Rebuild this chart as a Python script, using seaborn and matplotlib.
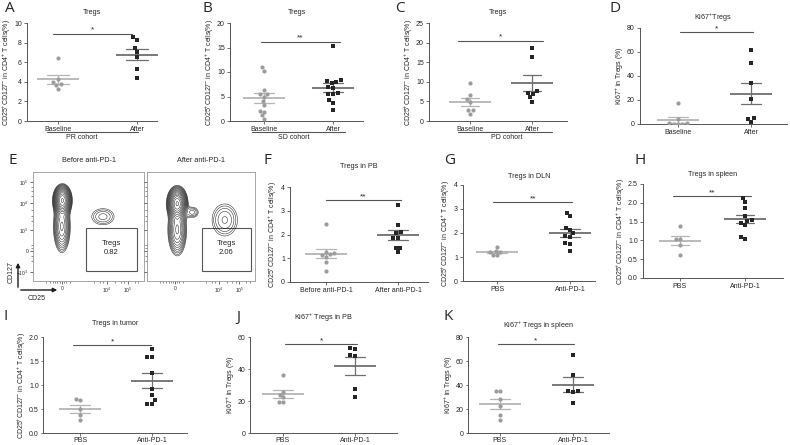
import warnings
import numpy as np
import pandas as pd
import matplotlib
matplotlib.use("Agg")
import matplotlib.pyplot as plt
import matplotlib.transforms as mtrans
from matplotlib.patches import Rectangle, FancyArrowPatch
import seaborn as sns

warnings.filterwarnings("ignore")

sns.set_theme(style="ticks")
plt.rcParams["font.family"] = ["Liberation Sans", "DejaVu Sans"]
plt.rcParams["mathtext.default"] = "regular"
plt.rcParams["axes.linewidth"] = 0.7

# ---- data ----
pr_baseline = [6.4, 4.3, 4.0, 3.8, 3.7, 3.3]
pr_after = [8.56, 8.29, 7.43, 6.99, 6.51, 5.31, 4.35]
sd_baseline = [11.0, 10.3, 6.4, 5.6, 5.5, 5.0, 4.0, 3.2, 2.1, 1.9, 1.2, 0.5]
sd_after = [15.4, 8.3, 8.1, 7.9, 7.7, 7.0, 6.8, 5.8, 5.5, 5.5, 4.2, 3.6, 2.2]
pd_baseline = [9.8, 6.6, 5.6, 4.9, 2.9, 2.7, 1.7]
pd_after = [18.6, 16.3, 7.6, 7.2, 7.0, 6.0, 4.9]
ki67_baseline = [17.3, 3.9, 0.8, 0.5, 0.4, 0.2, 0.1]
ki67_after = [61.8, 50.7, 34.0, 20.6, 4.7, 4.5, 1.5]

pb_before = [2.43, 1.25, 1.21, 1.17, 1.14, 1.07, 0.84, 0.45]
pb_after = [3.26, 2.40, 2.12, 2.05, 1.87, 1.87, 1.45, 1.42, 1.25]
dln_pbs = [1.43, 1.25, 1.22, 1.20, 1.08, 1.07]
dln_anti = [2.85, 2.71, 2.22, 2.13, 1.99, 1.89, 1.85, 1.57, 1.53, 1.25]
spleen_pbs = [1.39, 1.04, 1.04, 0.88, 0.62]
spleen_anti = [2.12, 2.01, 1.86, 1.65, 1.55, 1.52, 1.46, 1.41, 1.10, 1.04]
tumor_pbs = [0.70, 0.68, 0.49, 0.37, 0.28]
tumor_anti = [1.76, 1.58, 1.58, 1.25, 0.92, 0.79, 0.68, 0.61, 0.61]
ki67_pb_pbs = [36.5, 25.7, 23.8, 22.2, 19.4, 19.4]
ki67_pb_anti = [53.2, 52.3, 48.1, 48.5, 27.2, 22.2]
ki67_spleen_pbs = [34.7, 34.7, 28.3, 22.2, 15.3, 10.6]
ki67_spleen_anti = [65.3, 48.6, 34.7, 34.2, 34.7, 25.0]

cohort_cats = ["Baseline", "After"]
pb_cats = ["Before anti-PD-1", "After anti-PD-1"]
mouse_cats = ["PBS", "Anti-PD-1"]

# flow cytometry density blobs: (x, y, sx, sy, weight) in gate-plot units
flow_before = [(0.265, 0.74, 0.032, 0.055, 1.0), (0.26, 0.50, 0.035, 0.11, 0.22),
               (0.63, 0.59, 0.075, 0.055, 0.05)]
flow_after = [(0.28, 0.71, 0.036, 0.06, 1.0), (0.28, 0.47, 0.04, 0.11, 0.22),
              (0.42, 0.63, 0.04, 0.035, 0.05), (0.72, 0.56, 0.08, 0.10, 0.06)]
treg_pct = ["0.82", "2.06"]

LO_PT, HI_PT = "#9c9c9c", "#262626"
LO_BAR, HI_BAR = "#b5b5b5", "#6e6e6e"
AX_COL = "#555555"

W, H = 790, 445
fig = plt.figure(figsize=(7.9, 4.45), dpi=100)


def px_rect(left, right, bottom, top):
    return [left / W, 1 - bottom / H, (right - left) / W, (bottom - top) / H]


def dot_panel(rect, cats, lo, hi, title, ylabel, yticks, xlim, sig, star, pad,
              cohort=None, ylab_fmt=None, tick_len=2.5):
    ax = fig.add_axes(rect)
    df = pd.DataFrame({"group": [cats[0]] * len(lo) + [cats[1]] * len(hi),
                       "value": list(lo) + list(hi)})
    sns.pointplot(data=df, x="group", y="value", hue="group", order=cats,
                  hue_order=cats, palette=[LO_BAR, HI_BAR], errorbar="se",
                  capsize=0.28, marker="_", markersize=30, markeredgewidth=1.3,
                  linestyle="none", err_kws={"linewidth": 0.9}, legend=False, ax=ax)
    sns.swarmplot(x=[cats[0]] * len(lo), y=lo, order=cats, color=LO_PT,
                  marker="o", size=3.0, ax=ax)
    sns.swarmplot(x=[cats[1]] * len(hi), y=hi, order=cats, color=HI_PT,
                  marker="s", size=3.3, ax=ax)
    ax.set_xlim(*xlim)
    ax.set_ylim(yticks[0], yticks[-1])
    ax.set_yticks(yticks)
    if ylab_fmt:
        ax.set_yticklabels([ylab_fmt.format(t) for t in yticks])
    sns.despine(ax=ax)
    for s in ["left", "bottom"]:
        ax.spines[s].set_color(AX_COL)
    ax.tick_params(labelsize=5, length=tick_len, width=0.6, pad=1.2, color=AX_COL)
    ax.set_xlabel("")
    ax.set_ylabel(ylabel, fontsize=5, labelpad=1)
    ax.set_title(title, fontsize=5.2, pad=pad)
    ax.plot(sig[0], [sig[1], sig[1]], color=AX_COL, lw=0.8, clip_on=False)
    ax.text(np.mean(sig[0]), sig[1], star, ha="center", va="bottom", fontsize=6)
    if cohort:
        tr = mtrans.blended_transform_factory(ax.transData, ax.transAxes)
        ax.plot(cohort[1], [-0.112, -0.112], color=AX_COL, lw=0.8,
                transform=tr, clip_on=False)
        ax.text(cohort[2], -0.165, cohort[0], transform=ax.transAxes,
                ha="center", va="center", fontsize=5)
    return ax


def flow_panel(rect, blobs, gate, pct, title, ylabels):
    ax = fig.add_axes(rect)
    g = np.linspace(0, 1, 300)
    X, Y = np.meshgrid(g, g)
    Z = np.zeros_like(X)
    for cx, cy, sx, sy, w in blobs:
        Z += w * np.exp(-((X - cx) ** 2 / (2 * sx ** 2) + (Y - cy) ** 2 / (2 * sy ** 2)))
    levels = np.geomspace(Z.max() * 0.02, Z.max() * 0.95, 16)
    ax.contour(X, Y, Z, levels=levels, colors="k", linewidths=0.35)
    ax.add_patch(Rectangle((gate[0], gate[1]), gate[2], gate[3], fill=False,
                           edgecolor="#555555", lw=0.8))
    ax.text(gate[0] + gate[2] / 2, gate[1] + gate[3] * 0.63, "Tregs",
            ha="center", va="center", fontsize=5.5)
    ax.text(gate[0] + gate[2] / 2, gate[1] + gate[3] * 0.42, pct,
            ha="center", va="center", fontsize=5.5)
    ax.set_xlim(0, 1)
    ax.set_ylim(0, 1)
    ax.set_xticks([0.26, 0.667, 0.856])
    ax.set_xticklabels(["0", "$10^4$", "$10^5$"])
    ax.set_xticks([0.12, 0.15, 0.18, 0.2, 0.22, 0.24, 0.28, 0.3, 0.33,
                   0.55, 0.6, 0.63, 0.74, 0.79, 0.82, 0.92, 0.95], minor=True)
    ax.set_yticks([0.083, 0.275, 0.468, 0.716, 0.908])
    ax.set_yticklabels(["$-10^3$", "0", "$10^3$", "$10^4$", "$10^5$"])
    ax.set_yticks([0.18, 0.23, 0.3, 0.33, 0.55, 0.6, 0.65, 0.78, 0.83, 0.86], minor=True)
    ax.tick_params(labelsize=3.5, length=2, width=0.5, pad=1.5, color="#333333")
    ax.tick_params(which="minor", length=1.2, width=0.4, color="#333333")
    if not ylabels:
        ax.set_yticklabels([])
    for s in ax.spines.values():
        s.set_color("#999999")
        s.set_linewidth(0.6)
    ax.set_title(title, fontsize=5.2, pad=7)
    return ax


ylab_cd = "CD25$^{+}$CD127$^{-}$ in CD4$^{+}$ T cells(%)"
ylab_ki = "Ki67$^{+}$ in Tregs (%)"

# row 1
dot_panel(px_rect(27, 157, 121, 23), cohort_cats, pr_baseline, pr_after, "Tregs",
          ylab_cd, [0, 2, 4, 6, 8, 10], (-0.392, 1.253), ([-0.06, 0.94], 8.9), "*", 6.5,
          cohort=("PR cohort", [-0.14, 1.01], 0.42))
dot_panel(px_rect(230, 363, 121, 23), cohort_cats, sd_baseline, sd_after, "Tregs",
          ylab_cd, [0, 5, 10, 15, 20], (-0.493, 1.435), ([-0.04, 1.1], 16.2), "**", 6.5,
          cohort=("SD cohort", [-0.17, 1.17], 0.478))
dot_panel(px_rect(429, 567, 121, 23), cohort_cats, pd_baseline, pd_after, "Tregs",
          ylab_cd, [0, 5, 10, 15, 20, 25], (-0.661, 1.565), ([-0.19, 1.18], 20.5), "*", 6.5,
          cohort=("PD cohort", [-0.19, 1.32], 0.565))
dot_panel(px_rect(640, 787, 124, 28), cohort_cats, ki67_baseline, ki67_after,
          "Ki67$^{+}$Tregs", ylab_ki, [0, 20, 40, 60, 80], (-0.521, 1.493),
          ([0.03, 1.03], 76.4), "*", 5.8)

# row 2: flow plots
flow_panel(px_rect(33, 144, 281, 172), flow_before, (0.477, 0.092, 0.46, 0.394),
           treg_pct[0], "Before anti-PD-1", True)
flow_panel(px_rect(147, 255, 281, 172), flow_after, (0.51, 0.092, 0.45, 0.394),
           treg_pct[1], "After anti-PD-1", False)
fig.add_artist(FancyArrowPatch((18 / W, 1 - 290 / H), (18 / W, 1 - 260 / H),
                               transform=fig.transFigure, arrowstyle="-|>",
                               mutation_scale=6, lw=1, color="k"))
fig.add_artist(FancyArrowPatch((18 / W, 1 - 290 / H), (60 / W, 1 - 290 / H),
                               transform=fig.transFigure, arrowstyle="-|>",
                               mutation_scale=6, lw=1, color="k"))
fig.text(11 / W, 1 - 272 / H, "CD127", rotation=90, ha="center", va="center", fontsize=5)
fig.text(37 / W, 1 - 298 / H, "CD25", ha="center", va="center", fontsize=5)

dot_panel(px_rect(290, 428, 282, 187), pb_cats, pb_before, pb_after, "Tregs in PB",
          ylab_cd, [0, 1, 2, 3, 4], (-0.5, 1.417), ([0.0, 1.04], 3.45), "**", 13.5)
dot_panel(px_rect(463, 595, 281, 185), mouse_cats, dln_pbs, dln_anti, "Tregs in DLN",
          ylab_cd, [0, 1, 2, 3, 4], (-0.466, 1.34), ([-0.05, 1.03], 3.29), "**", 5)
dot_panel(px_rect(643, 783, 278, 184), mouse_cats, spleen_pbs, spleen_anti,
          "Tregs in spleen", ylab_cd, [0, 0.5, 1.0, 1.5, 2.0, 2.5], (-0.569, 1.585),
          ([-0.1, 1.1], 2.18), "**", 5.8, ylab_fmt="{:.1f}")

# row 3
dot_panel(px_rect(43, 187, 433, 337), mouse_cats, tumor_pbs, tumor_anti,
          "Tregs in tumor", ylab_cd, [0, 0.5, 1.0, 1.5, 2.0], (-0.514, 1.486),
          ([-0.1, 0.99], 1.83), "*", 8.6, ylab_fmt="{:.1f}", tick_len=1.8)
dot_panel(px_rect(250, 397, 433, 337), mouse_cats, ki67_pb_pbs, ki67_pb_anti,
          "Ki67$^{+}$ Tregs in PB", ylab_ki, [0, 20, 40, 60], (-0.458, 1.583),
          ([0.03, 1.03], 55.6), "*", 12, tick_len=1.8)
dot_panel(px_rect(468, 609, 433, 337), mouse_cats, ki67_spleen_pbs, ki67_spleen_anti,
          "Ki67$^{+}$ Tregs in spleen", ylab_ki, [0, 20, 40, 60, 80], (-0.438, 1.493),
          ([-0.03, 1.01], 74.2), "*", 6.5, tick_len=1.8)

# panel letters
letters = [("A", 10, 8), ("B", 207, 8), ("C", 400, 8), ("D", 615, 8),
           ("E", 13, 160), ("F", 267, 160), ("G", 450, 160), ("H", 640, 160),
           ("I", 6, 317), ("J", 238, 317), ("K", 448, 317)]
for lab, x, y in letters:
    fig.text(x / W, 1 - y / H, lab, fontsize=11, ha="center", va="center",
             family=["Open Sans", "DejaVu Sans"])

fig.savefig("out.png", dpi=100)
